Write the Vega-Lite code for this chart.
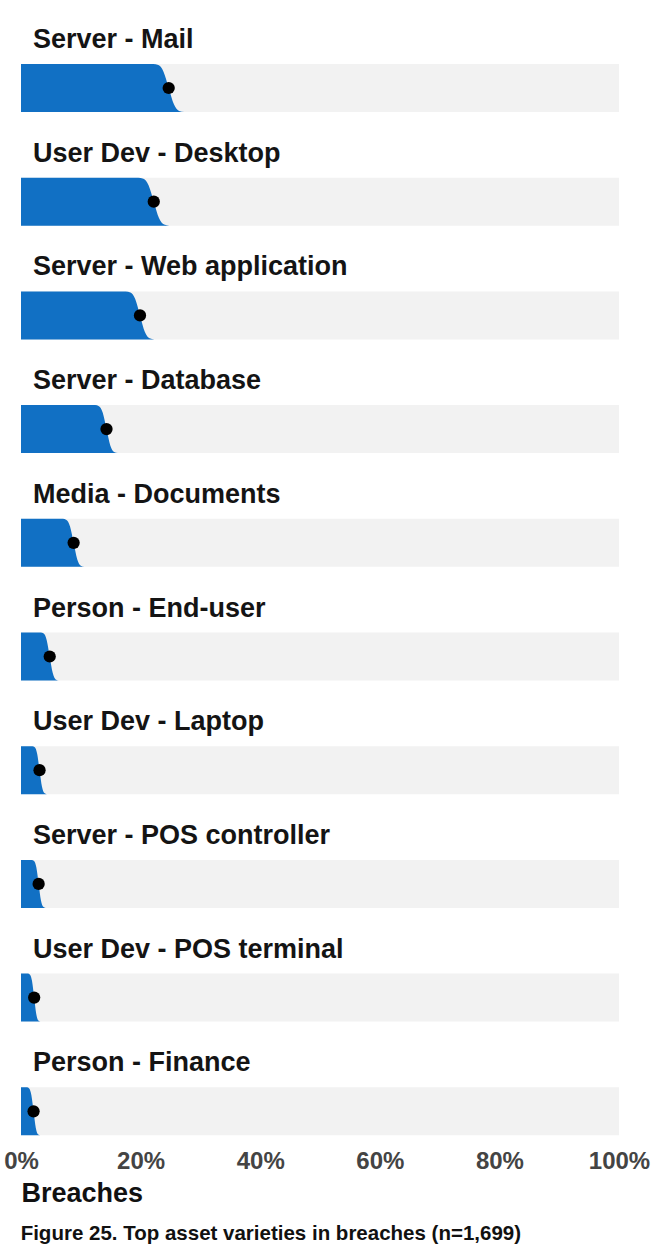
{
  "$schema": "https://vega.github.io/schema/vega-lite/v6.json",
  "padding": {"left": 3, "top": 26, "right": 5, "bottom": 10},
  "background": "white",
  "title": {"text": "Figure 25. Top asset varieties in breaches (n=1,699)", "orient": "bottom", "anchor": "start", "fontSize": 20.5, "fontWeight": "bold", "font": "Liberation Sans", "color": "#111111", "offset": 18, "dx": 17},
  "data": {"values": [
    {"asset": "Server - Mail", "part": "curve", "pct": 0, "share": 1},
    {"asset": "Server - Mail", "part": "curve", "pct": 22.1, "share": 1},
    {"asset": "Server - Mail", "part": "curve", "pct": 22.97, "share": 0.977},
    {"asset": "Server - Mail", "part": "curve", "pct": 23.83, "share": 0.841},
    {"asset": "Server - Mail", "part": "curve", "pct": 24.7, "share": 0.5},
    {"asset": "Server - Mail", "part": "curve", "pct": 25.57, "share": 0.159},
    {"asset": "Server - Mail", "part": "curve", "pct": 26.43, "share": 0.023},
    {"asset": "Server - Mail", "part": "curve", "pct": 27.3, "share": 0},
    {"asset": "Server - Mail", "part": "estimate", "pct": 24.7},
    {"asset": "User Dev - Desktop", "part": "curve", "pct": 0, "share": 1},
    {"asset": "User Dev - Desktop", "part": "curve", "pct": 19.6, "share": 1},
    {"asset": "User Dev - Desktop", "part": "curve", "pct": 20.47, "share": 0.977},
    {"asset": "User Dev - Desktop", "part": "curve", "pct": 21.33, "share": 0.841},
    {"asset": "User Dev - Desktop", "part": "curve", "pct": 22.2, "share": 0.5},
    {"asset": "User Dev - Desktop", "part": "curve", "pct": 23.07, "share": 0.159},
    {"asset": "User Dev - Desktop", "part": "curve", "pct": 23.93, "share": 0.023},
    {"asset": "User Dev - Desktop", "part": "curve", "pct": 24.8, "share": 0},
    {"asset": "User Dev - Desktop", "part": "estimate", "pct": 22.2},
    {"asset": "Server - Web application", "part": "curve", "pct": 0, "share": 1},
    {"asset": "Server - Web application", "part": "curve", "pct": 17.5, "share": 1},
    {"asset": "Server - Web application", "part": "curve", "pct": 18.3, "share": 0.977},
    {"asset": "Server - Web application", "part": "curve", "pct": 19.1, "share": 0.841},
    {"asset": "Server - Web application", "part": "curve", "pct": 19.9, "share": 0.5},
    {"asset": "Server - Web application", "part": "curve", "pct": 20.7, "share": 0.159},
    {"asset": "Server - Web application", "part": "curve", "pct": 21.5, "share": 0.023},
    {"asset": "Server - Web application", "part": "curve", "pct": 22.3, "share": 0},
    {"asset": "Server - Web application", "part": "estimate", "pct": 19.9},
    {"asset": "Server - Database", "part": "curve", "pct": 0, "share": 1},
    {"asset": "Server - Database", "part": "curve", "pct": 12.4, "share": 1},
    {"asset": "Server - Database", "part": "curve", "pct": 13.03, "share": 0.977},
    {"asset": "Server - Database", "part": "curve", "pct": 13.67, "share": 0.841},
    {"asset": "Server - Database", "part": "curve", "pct": 14.3, "share": 0.5},
    {"asset": "Server - Database", "part": "curve", "pct": 14.93, "share": 0.159},
    {"asset": "Server - Database", "part": "curve", "pct": 15.57, "share": 0.023},
    {"asset": "Server - Database", "part": "curve", "pct": 16.2, "share": 0},
    {"asset": "Server - Database", "part": "estimate", "pct": 14.3},
    {"asset": "Media - Documents", "part": "curve", "pct": 0, "share": 1},
    {"asset": "Media - Documents", "part": "curve", "pct": 7.0, "share": 1},
    {"asset": "Media - Documents", "part": "curve", "pct": 7.6, "share": 0.977},
    {"asset": "Media - Documents", "part": "curve", "pct": 8.2, "share": 0.841},
    {"asset": "Media - Documents", "part": "curve", "pct": 8.8, "share": 0.5},
    {"asset": "Media - Documents", "part": "curve", "pct": 9.4, "share": 0.159},
    {"asset": "Media - Documents", "part": "curve", "pct": 10.0, "share": 0.023},
    {"asset": "Media - Documents", "part": "curve", "pct": 10.6, "share": 0},
    {"asset": "Media - Documents", "part": "estimate", "pct": 8.8},
    {"asset": "Person - End-user", "part": "curve", "pct": 0, "share": 1},
    {"asset": "Person - End-user", "part": "curve", "pct": 3.3, "share": 1},
    {"asset": "Person - End-user", "part": "curve", "pct": 3.8, "share": 0.977},
    {"asset": "Person - End-user", "part": "curve", "pct": 4.3, "share": 0.841},
    {"asset": "Person - End-user", "part": "curve", "pct": 4.8, "share": 0.5},
    {"asset": "Person - End-user", "part": "curve", "pct": 5.3, "share": 0.159},
    {"asset": "Person - End-user", "part": "curve", "pct": 5.8, "share": 0.023},
    {"asset": "Person - End-user", "part": "curve", "pct": 6.3, "share": 0},
    {"asset": "Person - End-user", "part": "estimate", "pct": 4.8},
    {"asset": "User Dev - Laptop", "part": "curve", "pct": 0, "share": 1},
    {"asset": "User Dev - Laptop", "part": "curve", "pct": 1.9, "share": 1},
    {"asset": "User Dev - Laptop", "part": "curve", "pct": 2.3, "share": 0.977},
    {"asset": "User Dev - Laptop", "part": "curve", "pct": 2.7, "share": 0.841},
    {"asset": "User Dev - Laptop", "part": "curve", "pct": 3.1, "share": 0.5},
    {"asset": "User Dev - Laptop", "part": "curve", "pct": 3.5, "share": 0.159},
    {"asset": "User Dev - Laptop", "part": "curve", "pct": 3.9, "share": 0.023},
    {"asset": "User Dev - Laptop", "part": "curve", "pct": 4.3, "share": 0},
    {"asset": "User Dev - Laptop", "part": "estimate", "pct": 3.1},
    {"asset": "Server - POS controller", "part": "curve", "pct": 0, "share": 1},
    {"asset": "Server - POS controller", "part": "curve", "pct": 1.8, "share": 1},
    {"asset": "Server - POS controller", "part": "curve", "pct": 2.18, "share": 0.977},
    {"asset": "Server - POS controller", "part": "curve", "pct": 2.57, "share": 0.841},
    {"asset": "Server - POS controller", "part": "curve", "pct": 2.95, "share": 0.5},
    {"asset": "Server - POS controller", "part": "curve", "pct": 3.33, "share": 0.159},
    {"asset": "Server - POS controller", "part": "curve", "pct": 3.72, "share": 0.023},
    {"asset": "Server - POS controller", "part": "curve", "pct": 4.1, "share": 0},
    {"asset": "Server - POS controller", "part": "estimate", "pct": 2.95},
    {"asset": "User Dev - POS terminal", "part": "curve", "pct": 0, "share": 1},
    {"asset": "User Dev - POS terminal", "part": "curve", "pct": 1.15, "share": 1},
    {"asset": "User Dev - POS terminal", "part": "curve", "pct": 1.5, "share": 0.977},
    {"asset": "User Dev - POS terminal", "part": "curve", "pct": 1.85, "share": 0.841},
    {"asset": "User Dev - POS terminal", "part": "curve", "pct": 2.2, "share": 0.5},
    {"asset": "User Dev - POS terminal", "part": "curve", "pct": 2.55, "share": 0.159},
    {"asset": "User Dev - POS terminal", "part": "curve", "pct": 2.9, "share": 0.023},
    {"asset": "User Dev - POS terminal", "part": "curve", "pct": 3.25, "share": 0},
    {"asset": "User Dev - POS terminal", "part": "estimate", "pct": 2.2},
    {"asset": "Person - Finance", "part": "curve", "pct": 0, "share": 1},
    {"asset": "Person - Finance", "part": "curve", "pct": 1.0, "share": 1},
    {"asset": "Person - Finance", "part": "curve", "pct": 1.37, "share": 0.977},
    {"asset": "Person - Finance", "part": "curve", "pct": 1.73, "share": 0.841},
    {"asset": "Person - Finance", "part": "curve", "pct": 2.1, "share": 0.5},
    {"asset": "Person - Finance", "part": "curve", "pct": 2.47, "share": 0.159},
    {"asset": "Person - Finance", "part": "curve", "pct": 2.83, "share": 0.023},
    {"asset": "Person - Finance", "part": "curve", "pct": 3.2, "share": 0},
    {"asset": "Person - Finance", "part": "estimate", "pct": 2.1}
  ]},
  "facet": {
    "row": {
      "field": "asset", "type": "nominal",
      "sort": ["Server - Mail", "User Dev - Desktop", "Server - Web application", "Server - Database", "Media - Documents", "Person - End-user", "User Dev - Laptop", "Server - POS controller", "User Dev - POS terminal", "Person - Finance"],
      "title": null,
      "header": {"labelOrient": "top", "labelAngle": 0, "labelAnchor": "start", "labelAlign": "left", "labelFontSize": 27, "labelFontWeight": "bold", "labelFont": "Liberation Sans", "labelColor": "#141414", "labelPadding": -17, "labelLimit": 0}
    }
  },
  "spacing": {"row": 27.7},
  "spec": {
    "width": 598,
    "height": 48,
    "layer": [
      {
        "transform": [{"filter": "datum.part === 'curve'"}],
        "mark": {"type": "area", "orient": "vertical", "interpolate": "monotone", "color": "#1170c4"},
        "encoding": {
          "x": {"field": "pct", "type": "quantitative", "scale": {"domain": [0, 100]},
            "axis": {"values": [0, 20, 40, 60, 80, 100], "labelExpr": "datum.value + '%'", "labelFontSize": 24, "labelFontWeight": "bold", "labelColor": "#444444", "labelFont": "Liberation Sans", "labelOffset": -12, "domain": false, "ticks": false, "grid": false, "labelPadding": 13, "labelFlush": false, "title": "Breaches", "titleAnchor": "start", "titleAlign": "left", "titleFontSize": 27, "titleFontWeight": "bold", "titleFont": "Liberation Sans", "titleColor": "#111111", "titlePadding": 7}},
          "y": {"field": "share", "type": "quantitative", "scale": {"domain": [0, 1]}, "axis": null}
        }
      },
      {
        "transform": [{"filter": "datum.part === 'estimate'"}],
        "mark": {"type": "point", "filled": true, "color": "#000000", "size": 150, "opacity": 1},
        "encoding": {
          "x": {"field": "pct", "type": "quantitative"},
          "y": {"datum": 0.5, "type": "quantitative", "axis": null}
        }
      }
    ]
  },
  "config": {"view": {"fill": "#f2f2f2", "stroke": null}, "font": "Liberation Sans", "style": {"guide-label": {"dx": 12}}}
}
